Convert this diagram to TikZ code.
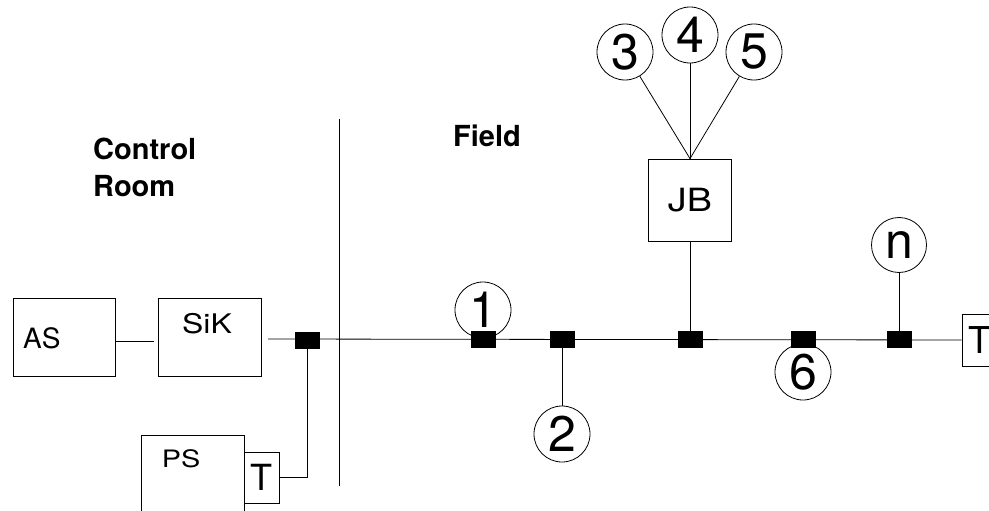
\documentclass[tikz,border=0pt]{standalone}
\usepackage{fontspec}
\setmainfont{TeX Gyre Heros}
\begin{document}
\begin{tikzpicture}[x=1pt,y=-1pt]
\tikzset{
 wire/.style={line width=0.8pt},
 boxnode/.style={draw,line width=0.8pt,inner sep=0pt,fill=white},
 coupler/.style={fill=black,draw=black,inner sep=0pt,minimum width=24pt,minimum height=16pt},
 station/.style={circle,draw,line width=0.8pt,fill=white,inner sep=0pt,minimum size=56pt,font=\fontsize{50}{52}\selectfont},
 lbl/.style={inner sep=0pt,font=\fontsize{28}{30}\selectfont},
 head/.style={inner sep=0pt,font=\bfseries\fontsize{29}{37.5}\selectfont,align=left},
}
\useasboundingbox (0,0) rectangle (989,511);

% headings
\node[head,anchor=west] (ctrl) at (93,167.5) {Control\\Room};
\node[head,anchor=west] (field) at (453,136) {Field};

% divider
\coordinate (divT) at (339,119);
\coordinate (divB) at (339,486);
\draw[wire] (divT) -- (divB);

% control room boxes
\node[boxnode,minimum width=102pt,minimum height=78pt] (AS) at (64,337) {};
\node[lbl,anchor=west] (AStxt) at (23,338) {AS};
\node[boxnode,minimum width=103pt,minimum height=78pt] (SiK) at (209.5,337) {};
\node[lbl,font=\fontsize{27}{29}\selectfont] (SiKtxt) at (207,324) {\scalebox{1.18}[1]{SiK}};
\coordinate (ASr) at (115,341);
\coordinate (SiKl) at (154,341);
\draw[wire] (ASr) -- (SiKl);

\node[boxnode,minimum width=103pt,minimum height=90pt] (PS) at (192.5,480) {};
\node[lbl,font=\fontsize{24}{26}\selectfont] (PStxt) at (181,459) {\scalebox{1.2}[1]{PS}};
\node[boxnode,minimum width=35pt,minimum height=51pt,font=\fontsize{36}{38}\selectfont] (PST) at (261.5,477.5) {T};

% bus
\coordinate (busL) at (268,339);
\node[boxnode,minimum width=38pt,minimum height=52pt,font=\fontsize{37}{39}\selectfont,text width=26pt,align=left] (TR) at (981,340) {T};
\draw[wire] (busL) -- (TR.west);

% stations drawn before couplers
\node[station] (s1) at (483,310) {1};
\node[station] (s6) at (803,372) {6};
\node[station] (s2) at (562,434) {2};
\node[station,minimum size=55pt] (sn) at (899,245) {n};
\node[station] (s3) at (625,52) {3};
\node[station] (s4) at (690,35) {4};
\node[station] (s5) at (754,52) {5};
\node[boxnode,minimum width=83pt,minimum height=82pt,font=\fontsize{32}{34}\selectfont] (JB) at (690,200) {\scalebox{1.18}[1]{JB}};

% couplers
\node[coupler] (c0) at (307.5,340) {};
\node[coupler] (c1) at (483,339) {};
\node[coupler] (c2) at (562,339) {};
\node[coupler] (c3) at (690,339) {};
\node[coupler] (c4) at (803,339) {};
\node[coupler] (c5) at (899,339) {};

% connectors
\draw[wire] (c0.south) |- (PST.east);
\draw[wire] (c2) -- (s2);
\draw[wire] (JB) -- (c3);
\draw[wire] (JB.north) -- (s3);
\draw[wire] (JB.north) -- (s4);
\draw[wire] (JB.north) -- (s5);
\draw[wire] (sn) -- (c5);
\end{tikzpicture}
\end{document}
